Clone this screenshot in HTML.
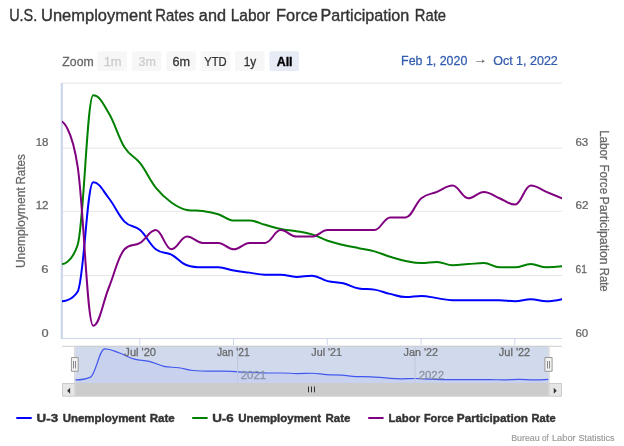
<!DOCTYPE html>
<html lang="en">
<head>
<meta charset="utf-8">
<title>U.S. Unemployment Rates and Labor Force Participation Rate</title>
<style>
html,body{margin:0;padding:0;background:#ffffff;}
body{width:624px;height:446px;overflow:hidden;font-family:'Liberation Sans', Arial, sans-serif;}
svg text{white-space:pre;}
</style>
</head>
<body>
<svg width="624" height="446" viewBox="0 0 624 446" style="font-family:'Liberation Sans', Arial, sans-serif;display:block">
<rect x="0" y="0" width="624" height="446" fill="#ffffff"/>
<path d="M 62.0 83.1 L 562.0 83.1" stroke="#e6e6e6" stroke-width="1" fill="none"/>
<path d="M 62.0 148.2 L 562.0 148.2" stroke="#e6e6e6" stroke-width="1" fill="none"/>
<path d="M 62.0 211.3 L 562.0 211.3" stroke="#e6e6e6" stroke-width="1" fill="none"/>
<path d="M 62.0 275.5 L 562.0 275.5" stroke="#e6e6e6" stroke-width="1" fill="none"/>
<path d="M 62.0 338.5 L 562.0 338.5" stroke="#ccd6eb" stroke-width="1" fill="none"/>
<path d="M 139.8 338.5 L 139.8 345.0" stroke="#ccd6eb" stroke-width="1" fill="none"/>
<path d="M 233.6 338.5 L 233.6 345.0" stroke="#ccd6eb" stroke-width="1" fill="none"/>
<path d="M 327.3 338.5 L 327.3 345.0" stroke="#ccd6eb" stroke-width="1" fill="none"/>
<path d="M 421.1 338.5 L 421.1 345.0" stroke="#ccd6eb" stroke-width="1" fill="none"/>
<path d="M 514.8 338.5 L 514.8 345.0" stroke="#ccd6eb" stroke-width="1" fill="none"/>
<path d="M 61.8 83.0 L 61.8 339.0" stroke="#ccd6eb" stroke-width="2.2" fill="none"/>
<clipPath id="cp"><rect x="62.0" y="83.0" width="500.0" height="256.0"/></clipPath>
<g clip-path="url(#cp)" fill="none" stroke-width="2" stroke-linejoin="round" stroke-linecap="round">
<path d="M 62.00 301.31 C 62.00 301.31 71.38 301.31 77.62 291.75 C 83.88 282.19 87.00 182.31 93.25 182.31 C 99.50 182.31 102.62 190.39 108.88 198.25 C 115.12 206.11 118.25 215.25 124.50 221.62 C 130.75 228.00 133.88 224.60 140.12 230.12 C 146.38 235.65 149.50 244.36 155.75 249.25 C 162.00 254.14 165.12 251.38 171.38 254.56 C 177.62 257.75 180.75 263.06 187.00 265.19 C 193.25 267.31 196.38 267.31 202.62 267.31 C 208.88 267.31 212.00 267.31 218.25 267.31 C 224.50 267.31 227.62 269.44 233.88 270.50 C 240.12 271.56 243.25 271.77 249.50 272.62 C 255.75 273.48 258.88 274.75 265.12 274.75 C 271.38 274.75 274.50 274.75 280.75 274.75 C 287.00 274.75 290.12 276.88 296.38 276.88 C 302.62 276.88 305.75 275.81 312.00 275.81 C 318.25 275.81 321.38 279.64 327.62 281.12 C 333.88 282.61 337.00 281.76 343.25 283.25 C 349.50 284.74 352.62 287.50 358.88 288.56 C 365.12 289.62 368.25 288.56 374.50 289.62 C 380.75 290.69 383.88 292.39 390.12 293.88 C 396.38 295.36 399.50 297.06 405.75 297.06 C 412.00 297.06 415.12 296.00 421.38 296.00 C 427.62 296.00 430.75 297.27 437.00 298.12 C 443.25 298.98 446.38 300.25 452.62 300.25 C 458.88 300.25 462.00 300.25 468.25 300.25 C 474.50 300.25 477.62 300.25 483.88 300.25 C 490.12 300.25 493.25 300.25 499.50 300.25 C 505.75 300.25 508.88 301.31 515.12 301.31 C 521.38 301.31 524.50 299.19 530.75 299.19 C 537.00 299.19 540.12 301.31 546.38 301.31 C 552.62 301.31 562.00 299.19 562.00 299.19" stroke="#0000ff"/>
<path d="M 62.00 264.12 C 62.00 264.12 71.38 264.12 77.62 245.00 C 83.88 225.88 87.00 95.19 93.25 95.19 C 99.50 95.19 102.62 102.84 108.88 113.25 C 115.12 123.66 118.25 137.26 124.50 147.25 C 130.75 157.24 133.88 155.11 140.12 163.19 C 146.38 171.26 149.50 179.76 155.75 187.62 C 162.00 195.49 165.12 198.04 171.38 202.50 C 177.62 206.96 180.75 208.88 187.00 209.94 C 193.25 211.00 196.38 210.15 202.62 211.00 C 208.88 211.85 212.00 212.28 218.25 214.19 C 224.50 216.10 227.62 220.56 233.88 220.56 C 240.12 220.56 243.25 220.56 249.50 220.56 C 255.75 220.56 258.88 223.11 265.12 224.81 C 271.38 226.51 274.50 227.79 280.75 229.06 C 287.00 230.34 290.12 230.12 296.38 231.19 C 302.62 232.25 305.75 232.46 312.00 234.38 C 318.25 236.29 321.38 238.62 327.62 240.75 C 333.88 242.88 337.00 243.51 343.25 245.00 C 349.50 246.49 352.62 246.91 358.88 248.19 C 365.12 249.46 368.25 249.67 374.50 251.38 C 380.75 253.07 383.88 254.78 390.12 256.69 C 396.38 258.60 399.50 259.66 405.75 260.94 C 412.00 262.21 415.12 263.06 421.38 263.06 C 427.62 263.06 430.75 262.00 437.00 262.00 C 443.25 262.00 446.38 265.19 452.62 265.19 C 458.88 265.19 462.00 264.55 468.25 264.12 C 474.50 263.70 477.62 263.06 483.88 263.06 C 490.12 263.06 493.25 267.31 499.50 267.31 C 505.75 267.31 508.88 267.31 515.12 267.31 C 521.38 267.31 524.50 264.12 530.75 264.12 C 537.00 264.12 540.12 267.31 546.38 267.31 C 552.62 267.31 562.00 266.25 562.00 266.25" stroke="#008000"/>
<path d="M 62.00 121.75 C 62.00 121.75 71.38 125.57 77.62 166.37 C 83.88 207.17 87.00 325.75 93.25 325.75 C 99.50 325.75 102.62 302.80 108.88 287.50 C 115.12 272.20 118.25 255.63 124.50 249.25 C 130.75 242.88 133.88 246.70 140.12 242.88 C 146.38 239.05 149.50 230.12 155.75 230.12 C 162.00 230.12 165.12 249.25 171.38 249.25 C 177.62 249.25 180.75 236.50 187.00 236.50 C 193.25 236.50 196.38 242.88 202.62 242.88 C 208.88 242.88 212.00 242.88 218.25 242.88 C 224.50 242.88 227.62 249.25 233.88 249.25 C 240.12 249.25 243.25 242.88 249.50 242.88 C 255.75 242.88 258.88 242.88 265.12 242.88 C 271.38 242.88 274.50 230.12 280.75 230.12 C 287.00 230.12 290.12 236.50 296.38 236.50 C 302.62 236.50 305.75 236.50 312.00 236.50 C 318.25 236.50 321.38 230.12 327.62 230.12 C 333.88 230.12 337.00 230.12 343.25 230.12 C 349.50 230.12 352.62 230.12 358.88 230.12 C 365.12 230.12 368.25 230.12 374.50 230.12 C 380.75 230.12 383.88 217.38 390.12 217.38 C 396.38 217.38 399.50 217.38 405.75 217.38 C 412.00 217.38 415.12 203.35 421.38 198.25 C 427.62 193.15 430.75 194.43 437.00 191.88 C 443.25 189.33 446.38 185.50 452.62 185.50 C 458.88 185.50 462.00 198.25 468.25 198.25 C 474.50 198.25 477.62 191.88 483.88 191.88 C 490.12 191.88 493.25 195.70 499.50 198.25 C 505.75 200.80 508.88 204.62 515.12 204.62 C 521.38 204.62 524.50 185.50 530.75 185.50 C 537.00 185.50 540.12 189.33 546.38 191.88 C 552.62 194.43 562.00 198.25 562.00 198.25" stroke="#800080"/>
</g>
<path d="M 75.30 379.90 C 75.30 379.90 84.17 379.90 90.09 377.41 C 96.00 374.92 98.96 348.90 104.88 348.90 C 110.79 348.90 113.75 351.00 119.66 353.05 C 125.58 355.10 128.53 357.48 134.45 359.14 C 140.37 360.80 143.32 359.92 149.24 361.36 C 155.15 362.79 158.11 365.06 164.02 366.34 C 169.94 367.61 172.90 366.89 178.81 367.72 C 184.73 368.55 187.69 369.94 193.60 370.49 C 199.51 371.04 202.47 371.04 208.39 371.04 C 214.30 371.04 217.26 371.04 223.18 371.04 C 229.09 371.04 232.05 371.60 237.96 371.87 C 243.88 372.15 246.83 372.21 252.75 372.43 C 258.66 372.65 261.62 372.98 267.54 372.98 C 273.45 372.98 276.41 372.98 282.32 372.98 C 288.24 372.98 291.20 373.53 297.11 373.53 C 303.03 373.53 305.99 373.26 311.90 373.26 C 317.81 373.26 320.77 374.25 326.69 374.64 C 332.60 375.03 335.56 374.81 341.48 375.19 C 347.39 375.58 350.35 376.30 356.26 376.58 C 362.18 376.86 365.14 376.58 371.05 376.86 C 376.97 377.13 379.92 377.57 385.84 377.96 C 391.75 378.35 394.71 378.79 400.62 378.79 C 406.54 378.79 409.50 378.52 415.41 378.52 C 421.33 378.52 424.29 378.85 430.20 379.07 C 436.11 379.29 439.07 379.62 444.99 379.62 C 450.90 379.62 453.86 379.62 459.77 379.62 C 465.69 379.62 468.65 379.62 474.56 379.62 C 480.48 379.62 483.44 379.62 489.35 379.62 C 495.27 379.62 498.22 379.90 504.14 379.90 C 510.05 379.90 513.01 379.35 518.92 379.35 C 524.84 379.35 527.80 379.90 533.71 379.90 C 539.63 379.90 548.50 379.35 548.50 379.35 L 548.50 383.00 L 75.30 383.00 Z" fill="#0000ff" fill-opacity="0.05" stroke="none"/>
<path d="M 75.30 379.90 C 75.30 379.90 84.17 379.90 90.09 377.41 C 96.00 374.92 98.96 348.90 104.88 348.90 C 110.79 348.90 113.75 351.00 119.66 353.05 C 125.58 355.10 128.53 357.48 134.45 359.14 C 140.37 360.80 143.32 359.92 149.24 361.36 C 155.15 362.79 158.11 365.06 164.02 366.34 C 169.94 367.61 172.90 366.89 178.81 367.72 C 184.73 368.55 187.69 369.94 193.60 370.49 C 199.51 371.04 202.47 371.04 208.39 371.04 C 214.30 371.04 217.26 371.04 223.18 371.04 C 229.09 371.04 232.05 371.60 237.96 371.87 C 243.88 372.15 246.83 372.21 252.75 372.43 C 258.66 372.65 261.62 372.98 267.54 372.98 C 273.45 372.98 276.41 372.98 282.32 372.98 C 288.24 372.98 291.20 373.53 297.11 373.53 C 303.03 373.53 305.99 373.26 311.90 373.26 C 317.81 373.26 320.77 374.25 326.69 374.64 C 332.60 375.03 335.56 374.81 341.48 375.19 C 347.39 375.58 350.35 376.30 356.26 376.58 C 362.18 376.86 365.14 376.58 371.05 376.86 C 376.97 377.13 379.92 377.57 385.84 377.96 C 391.75 378.35 394.71 378.79 400.62 378.79 C 406.54 378.79 409.50 378.52 415.41 378.52 C 421.33 378.52 424.29 378.85 430.20 379.07 C 436.11 379.29 439.07 379.62 444.99 379.62 C 450.90 379.62 453.86 379.62 459.77 379.62 C 465.69 379.62 468.65 379.62 474.56 379.62 C 480.48 379.62 483.44 379.62 489.35 379.62 C 495.27 379.62 498.22 379.90 504.14 379.90 C 510.05 379.90 513.01 379.35 518.92 379.35 C 524.84 379.35 527.80 379.90 533.71 379.90 C 539.63 379.90 548.50 379.35 548.50 379.35" fill="none" stroke="#3344ff" stroke-width="1.2"/>
<path d="M 237.6 345.8 L 237.6 383.0" stroke="#e6e6e6" stroke-width="1"/>
<path d="M 415.0 345.8 L 415.0 383.0" stroke="#e6e6e6" stroke-width="1"/>
<text transform="translate(240.76,378.8) scale(1.0860,1)" font-size="10.5" stroke="#999999" stroke-width="0.25" fill="#999999">2021</text>
<text transform="translate(418.65,378.8) scale(1.0905,1)" font-size="10.5" stroke="#999999" stroke-width="0.25" fill="#999999">2022</text>
<rect x="75.3" y="345.8" width="473.2" height="37.2" fill="rgba(102,133,194,0.3)"/>
<path d="M 62.0 346.3 L 74.8 346.3 L 74.8 383.0 M 549.0 383.0 L 549.0 346.3 L 562.0 346.3 M 75.3 346.3 L 548.5 346.3" stroke="#cccccc" stroke-width="1" fill="none"/>
<path d="M 71.4 357.5 L 78.2 357.5 L 78.2 371.3 L 71.4 371.3 Z" fill="#f2f2f2" stroke="#999999" stroke-width="1"/>
<path d="M 73.5 361 L 73.5 368.5 M 75.5 361 L 75.5 368.5" fill="none" stroke="#888888" stroke-width="1"/>
<path d="M 544.9 357.5 L 552.1 357.5 L 552.1 371.3 L 544.9 371.3 Z" fill="#f2f2f2" stroke="#999999" stroke-width="1"/>
<path d="M 547.5 361 L 547.5 368.5 M 549.5 361 L 549.5 368.5" fill="none" stroke="#888888" stroke-width="1"/>
<rect x="62.0" y="383.0" width="500.0" height="13.6" fill="#f2f2f2"/>
<rect x="75.3" y="383.0" width="473.2" height="13.6" fill="#cccccc"/>
<path d="M 308.5 386.5 L 308.5 392.33 M 311.5 386.5 L 311.5 392.33 M 314.5 386.5 L 314.5 392.33" stroke="#333333" stroke-width="1" fill="none"/>
<rect x="62.50" y="383.5" width="12.30" height="12.6" fill="#e6e6e6" stroke="#cccccc" stroke-width="1"/>
<path d="M 70.15 387.7 L 70.15 393.7 L 67.15 390.7 Z" fill="#333333"/>
<rect x="549.00" y="383.5" width="12.50" height="12.6" fill="#e6e6e6" stroke="#cccccc" stroke-width="1"/>
<path d="M 553.75 387.7 L 553.75 393.7 L 556.75 390.7 Z" fill="#333333"/>
<rect x="97.4" y="51.3" width="29.6" height="19.8" rx="2" ry="2" fill="#f7f7f7"/>
<rect x="131.8" y="51.3" width="29.6" height="19.8" rx="2" ry="2" fill="#f7f7f7"/>
<rect x="166.2" y="51.3" width="29.6" height="19.8" rx="2" ry="2" fill="#f7f7f7"/>
<rect x="200.6" y="51.3" width="29.6" height="19.8" rx="2" ry="2" fill="#f7f7f7"/>
<rect x="235.0" y="51.3" width="29.6" height="19.8" rx="2" ry="2" fill="#f7f7f7"/>
<rect x="269.4" y="51.3" width="29.6" height="19.8" rx="2" ry="2" fill="#e6ebf5"/>
<text transform="translate(9.14,20.5) scale(0.9267,1)" font-size="15.6" stroke="#333333" stroke-width="0.35" fill="#333333">U.S.</text>
<text transform="translate(40.98,20.5) scale(1.0580,1)" font-size="15.6" stroke="#333333" stroke-width="0.35" fill="#333333">Unemployment</text>
<text transform="translate(155.20,20.5) scale(0.9569,1)" font-size="15.6" stroke="#333333" stroke-width="0.35" fill="#333333">Rates</text>
<text transform="translate(198.85,20.5) scale(1.0421,1)" font-size="15.6" stroke="#333333" stroke-width="0.35" fill="#333333">and</text>
<text transform="translate(230.76,20.5) scale(0.9902,1)" font-size="15.6" stroke="#333333" stroke-width="0.35" fill="#333333">Labor</text>
<text transform="translate(276.09,20.5) scale(1.0508,1)" font-size="15.6" stroke="#333333" stroke-width="0.35" fill="#333333">Force</text>
<text transform="translate(320.51,20.5) scale(1.0347,1)" font-size="15.6" stroke="#333333" stroke-width="0.35" fill="#333333">Participation</text>
<text transform="translate(414.71,20.5) scale(0.9516,1)" font-size="15.6" stroke="#333333" stroke-width="0.35" fill="#333333">Rate</text>
<text transform="translate(35.68,145.5) scale(1.0952,1)" font-size="10.5" stroke="#666666" stroke-width="0.25" fill="#666666">18</text>
<text transform="translate(35.68,209) scale(1.0988,1)" font-size="10.5" stroke="#666666" stroke-width="0.25" fill="#666666">12</text>
<text transform="translate(41.37,273.2) scale(1.2513,1)" font-size="10.5" stroke="#666666" stroke-width="0.25" fill="#666666">6</text>
<text transform="translate(41.54,336.5) scale(1.2200,1)" font-size="10.5" stroke="#666666" stroke-width="0.25" fill="#666666">0</text>
<text transform="translate(575.45,145.6) scale(1.0977,1)" font-size="10.5" stroke="#666666" stroke-width="0.25" fill="#666666">63</text>
<text transform="translate(575.44,209) scale(1.1106,1)" font-size="10.5" stroke="#666666" stroke-width="0.25" fill="#666666">62</text>
<text transform="translate(575.62,273.1) scale(0.9694,1)" font-size="10.5" stroke="#666666" stroke-width="0.25" fill="#666666">61</text>
<text transform="translate(575.45,336.5) scale(1.0977,1)" font-size="10.5" stroke="#666666" stroke-width="0.25" fill="#666666">60</text>
<text transform="translate(24.6,268.08) rotate(-90) scale(1.0006,1)" font-size="12" stroke="#666666" stroke-width="0.25" fill="#666666">Unemployment</text>
<text transform="translate(24.6,184.57) rotate(-90) scale(0.9674,1)" font-size="12" stroke="#666666" stroke-width="0.25" fill="#666666">Rates</text>
<text transform="translate(599.6,130.13) rotate(90) scale(0.9695,1)" font-size="12" stroke="#666666" stroke-width="0.25" fill="#666666">Labor</text>
<text transform="translate(599.6,164.43) rotate(90) scale(0.9682,1)" font-size="12" stroke="#666666" stroke-width="0.25" fill="#666666">Force</text>
<text transform="translate(599.6,196.46) rotate(90) scale(1.0350,1)" font-size="12" stroke="#666666" stroke-width="0.25" fill="#666666">Participation</text>
<text transform="translate(599.6,267.76) rotate(90) scale(0.9424,1)" font-size="12" stroke="#666666" stroke-width="0.25" fill="#666666">Rate</text>
<text transform="translate(124.35,356.2) scale(1.0081,1)" font-size="11" stroke="#666666" stroke-width="0.25" fill="#666666">Jul '20</text>
<text transform="translate(216.97,356.2) scale(0.9309,1)" font-size="11" stroke="#666666" stroke-width="0.25" fill="#666666">Jan '21</text>
<text transform="translate(311.26,356.2) scale(0.9796,1)" font-size="11" stroke="#666666" stroke-width="0.25" fill="#666666">Jul '21</text>
<text transform="translate(403.55,356.2) scale(0.9862,1)" font-size="11" stroke="#666666" stroke-width="0.25" fill="#666666">Jan '22</text>
<text transform="translate(498.75,356.2) scale(1.0024,1)" font-size="11" stroke="#666666" stroke-width="0.25" fill="#666666">Jul '22</text>
<text transform="translate(36.53,421.7) scale(1.1626,1)" font-size="11.5" font-weight="bold" stroke="#333333" stroke-width="0.4" fill="#333333">U-3</text>
<text transform="translate(62.65,421.7) scale(0.9994,1)" font-size="11.5" font-weight="bold" stroke="#333333" stroke-width="0.4" fill="#333333">Unemployment</text>
<text transform="translate(149.75,421.7) scale(1.0063,1)" font-size="11.5" font-weight="bold" stroke="#333333" stroke-width="0.4" fill="#333333">Rate</text>
<text transform="translate(212.13,421.7) scale(1.1626,1)" font-size="11.5" font-weight="bold" stroke="#333333" stroke-width="0.4" fill="#333333">U-6</text>
<text transform="translate(238.15,421.7) scale(0.9994,1)" font-size="11.5" font-weight="bold" stroke="#333333" stroke-width="0.4" fill="#333333">Unemployment</text>
<text transform="translate(325.55,421.7) scale(0.9979,1)" font-size="11.5" font-weight="bold" stroke="#333333" stroke-width="0.4" fill="#333333">Rate</text>
<text transform="translate(388.56,421.7) scale(0.9871,1)" font-size="11.5" font-weight="bold" stroke="#333333" stroke-width="0.4" fill="#333333">Labor</text>
<text transform="translate(423.89,421.7) scale(0.9494,1)" font-size="11.5" font-weight="bold" stroke="#333333" stroke-width="0.4" fill="#333333">Force</text>
<text transform="translate(456.83,421.7) scale(1.0231,1)" font-size="11.5" font-weight="bold" stroke="#333333" stroke-width="0.4" fill="#333333">Participation</text>
<text transform="translate(531.58,421.7) scale(0.9642,1)" font-size="11.5" font-weight="bold" stroke="#333333" stroke-width="0.4" fill="#333333">Rate</text>
<text transform="translate(511.16,441.3) scale(0.9846,1)" font-size="9" stroke="#999999" stroke-width="0.15" fill="#999999">Bureau</text>
<text transform="translate(541.96,441.3) scale(0.8982,1)" font-size="9" stroke="#999999" stroke-width="0.15" fill="#999999">of</text>
<text transform="translate(551.93,441.3) scale(1.0305,1)" font-size="9" stroke="#999999" stroke-width="0.15" fill="#999999">Labor</text>
<text transform="translate(578.52,441.3) scale(1.0043,1)" font-size="9" stroke="#999999" stroke-width="0.15" fill="#999999">Statistics</text>
<text transform="translate(62.32,65.7) scale(1.0237,1)" font-size="12" stroke="#666666" stroke-width="0.25" fill="#666666">Zoom</text>
<text transform="translate(401.06,64.7) scale(1.0363,1)" font-size="12" stroke="#335cad" stroke-width="0.25" fill="#335cad">Feb 1, 2020</text>
<text transform="translate(493.15,64.7) scale(1.0431,1)" font-size="12" stroke="#335cad" stroke-width="0.25" fill="#335cad">Oct 1, 2022</text>
<text transform="translate(103.66,65.7) scale(1.0800,1)" font-size="12" stroke="#cccccc" stroke-width="0.25" fill="#cccccc">1m</text>
<text transform="translate(138.48,65.7) scale(1.0407,1)" font-size="12" stroke="#cccccc" stroke-width="0.25" fill="#cccccc">3m</text>
<text transform="translate(172.54,65.7) scale(1.0557,1)" font-size="12" stroke="#333333" stroke-width="0.25" fill="#333333">6m</text>
<text transform="translate(204.27,65.7) scale(0.9341,1)" font-size="12" stroke="#333333" stroke-width="0.25" fill="#333333">YTD</text>
<text transform="translate(243.74,65.7) scale(0.9872,1)" font-size="12" stroke="#333333" stroke-width="0.25" fill="#333333">1y</text>
<text transform="translate(276.71,65.7) scale(1.0336,1)" font-size="12" font-weight="bold" stroke="#000000" stroke-width="0.35" fill="#000000">All</text>
<text transform="translate(473.70,63.31) scale(1.2462,1)" font-size="11" font-weight="bold" stroke="#666666" stroke-width="0.25" fill="#666666">→</text>
<path d="M 16.3 418 L 31.700000000000003 418" stroke="#0000ff" stroke-width="2" fill="none"/>
<path d="M 192.2 418 L 207.6 418" stroke="#008000" stroke-width="2" fill="none"/>
<path d="M 368.2 418 L 383.59999999999997 418" stroke="#800080" stroke-width="2" fill="none"/>
</svg>
</body>
</html>
